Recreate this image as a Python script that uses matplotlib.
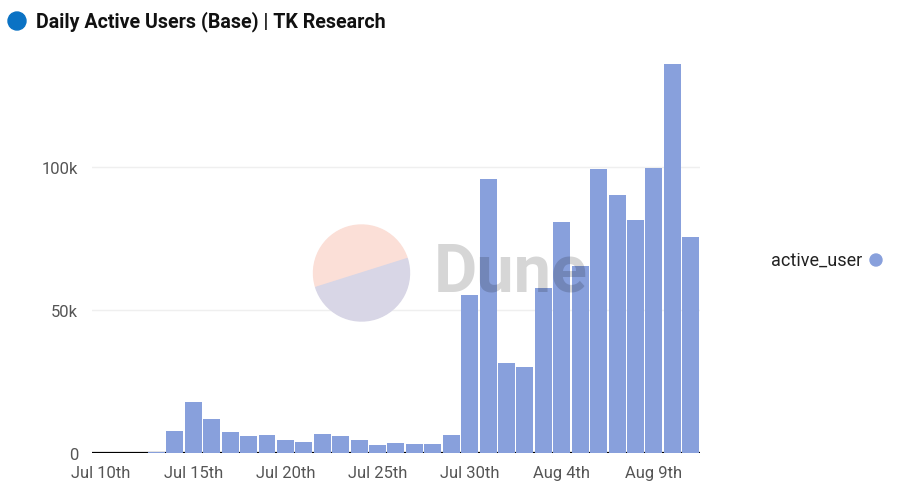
import numpy as np
import pandas as pd
import matplotlib
matplotlib.use("Agg")
import matplotlib.pyplot as plt
from matplotlib.patches import Circle, Wedge
import matplotlib.dates as mdates

# daily active users on Base
days = pd.date_range("2023-07-10", "2023-08-11", freq="D")
active_user = [0, 0, 0, 500, 7900, 18000, 12100, 7600, 6200, 6500, 4800,
               4100, 6900, 6200, 4800, 3000, 3700, 3400, 3400, 6500,
               55200, 95600, 31500, 30100, 57700, 80700, 65300, 99100,
               90000, 81300, 99500, 135700, 75400]
tick_days = pd.to_datetime(["2023-07-10", "2023-07-15", "2023-07-20", "2023-07-25",
                            "2023-07-30", "2023-08-04", "2023-08-09"])
tick_labels = ["Jul 10th", "Jul 15th", "Jul 20th", "Jul 25th",
               "Jul 30th", "Aug 4th", "Aug 9th"]
y_ticks = [0, 50000, 100000]
y_labels = ["0", "50k", "100k"]

BAR = "#88a0dc"
GREY = "#555555"
plt.rcParams["font.family"] = ["Roboto", "DejaVu Sans"]

fig = plt.figure(figsize=(8.99, 4.85), dpi=100)
ax = fig.add_axes([0.1023, 0.0629, 0.6763, 0.810])

x = mdates.date2num(days)
ax.bar(x, active_user, width=0.92, color=BAR, zorder=3)
ax.axhline(0, color="black", lw=1.6, zorder=2)

ax.set_xlim(x[0] - 0.5, x[-1] + 0.5)
ax.set_ylim(0, 137000)
ax.set_xticks(mdates.date2num(tick_days))
ax.set_xticklabels(tick_labels)
ax.set_yticks(y_ticks)
ax.set_yticklabels(y_labels)
ax.tick_params(axis="both", length=0, labelsize=12, colors=GREY)
ax.tick_params(axis="x", pad=8)
ax.tick_params(axis="y", pad=10)
for yv in y_ticks[1:]:
    ax.axhline(yv, color="#efefef", lw=1, zorder=1)
for s in ax.spines.values():
    s.set_visible(False)

# Dune watermark
cx, cy, r = 361.5, 485 - 274, 48
ang = np.degrees(np.arctan2(272.7 - 300, 409.3 - 322.7)) * -1
fig.patches.append(Wedge((cx, cy), r, ang, ang + 180, color="#fbdfd7",
                         transform=None, zorder=5))
fig.patches.append(Wedge((cx, cy), r, ang + 180, ang + 360, color="#d8d6e6",
                         transform=None, zorder=5))
fig.text(434 / 899, 1 - 273 / 485, "Dune", fontsize=48, fontweight="bold",
         color="black", alpha=0.16, va="center", ha="left", zorder=6)

# title and legend
fig.patches.append(Circle((17, 485 - 22), 9, color="#0a72c4", transform=None))
fig.text(36 / 899, 1 - 22 / 485, "Daily Active Users (Base) | TK Research",
         fontsize=14.1, fontweight="bold", color="#111111", va="center", ha="left")
fig.text(862 / 899, 1 - 261 / 485, "active_user", fontsize=13, color="#222222",
         va="center", ha="right")
fig.patches.append(Circle((876, 485 - 261), 6, color=BAR, transform=None))

plt.savefig("out.png", dpi=100)
plt.close()
